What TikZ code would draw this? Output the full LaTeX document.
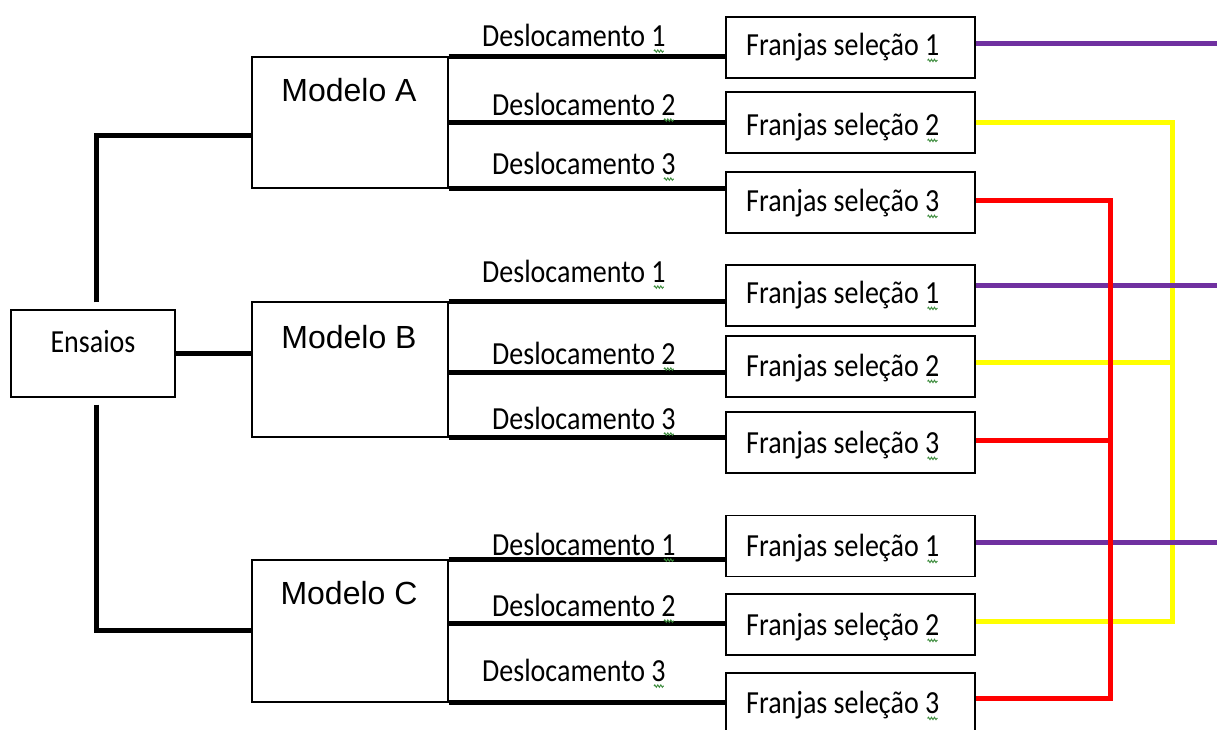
\documentclass[tikz,border=0pt]{standalone}
\usepackage{fontspec}
\usepackage{graphicx}
\setmainfont{Carlito}
\newfontfamily\arialfont{Liberation Sans}
\usetikzlibrary{positioning,decorations.pathmorphing}

\definecolor{roxo}{HTML}{7030A0}
\definecolor{amarelo}{HTML}{FFFF00}
\definecolor{vermelho}{HTML}{FF0000}
\definecolor{ondas}{HTML}{3A8A3A}

\newcommand{\alto}[1]{\scalebox{1}[1.15]{#1}}

\tikzset{
  caixa/.style={draw, line width=1.3pt, inner sep=0pt},
  texto/.style={inner sep=0pt, font=\fontsize{28}{33}\selectfont},
  modelo/.style={inner sep=0pt, font=\arialfont\fontsize{32}{38}\selectfont},
  grosso/.style={line width=5pt},
  ligacao/.style={line width=5pt},
  ondulado/.style={draw=ondas, line width=0.9pt, decorate,
    decoration={snake, amplitude=1.2pt, segment length=3pt}}
}

\begin{document}
\begin{tikzpicture}[x=1pt,y=-1pt]
\useasboundingbox (0,0) rectangle (1217,729);
\fill[white] (0,0) rectangle (1217,729);

% ensaios e modelos
\node[caixa, minimum width=164, minimum height=87] (ens) at (93,353.5) {};
\node[texto] (ensT) at (93,342) {\alto{Ensaios}};
\node[caixa, minimum width=196, minimum height=131] (mA) at (350,122.5) {};
\node[caixa, minimum width=196, minimum height=135] (mB) at (350,369.5) {};
\node[caixa, minimum width=196, minimum height=142] (mC) at (350,631) {};
\node[modelo] (mAT) at (349,90) {Modelo A};
\node[modelo] (mBT) at (349,337) {Modelo B};
\node[modelo] (mCT) at (349,593) {Modelo C};

% franjas
\foreach \n/\cy/\ty/\k in {A1/47.5/47/1, A2/122.5/127/2, A3/202.5/203/3,
                           B1/295.5/295/1, B2/366.5/368/2, B3/442.5/445/3,
                           C1/546/548/1, C2/624.5/627/2, C3/703.5/705/3}{
  \node[caixa, minimum width=249, minimum height=61] (f\n) at (850.5,\cy) {};
  \node[texto, anchor=west] (t\n) at (746,\ty) {\alto{Franjas seleção \k}};
}

% deslocamentos
\foreach \n/\x/\y/\k in {A1/482/35/1, A2/492/104/2, A3/492/163/3,
                         B1/482/271/1, B2/492/353/2, B3/492/418/3,
                         C1/492/544/1, C2/492/605/2, C3/482/670/3}{
  \node[texto, anchor=west] (d\n) at (\x,\y) {\alto{Deslocamento \k}};
}

% ligacoes pretas
\coordinate (tA) at (96,135);
\coordinate (tC) at (96,630);
\draw[grosso] ([yshift=7]ens.north -| tA) -- (tA) -- (tA -| mA.west);
\draw[grosso] ([yshift=-7]ens.south -| tC) -- (tC) -- (tC -| mC.west);
\draw[grosso] (ens.east) -- (ens.east -| mB.west);
\foreach \m/\s in {A/0,B/-2.5,C/8}{
  \draw[grosso] (m\m.north east) -- (m\m.north east -| f\m1.west);
  \draw[grosso] ([yshift=\s]m\m.east) -- ([yshift=\s]m\m.east -| f\m2.west);
  \draw[grosso] (m\m.south east) -- (m\m.south east -| f\m3.west);
}

% ligacoes coloridas
\coordinate (borda) at (1217,0);
\coordinate (busA) at (1172,0);
\coordinate (busV) at (1110,0);
\draw[ligacao, amarelo] ([yshift=0.5]fA2.east) -| ([yshift=3.5]fC2.east -| busA) -- ([yshift=3.5]fC2.east);
\draw[ligacao, amarelo] ([yshift=4.5]fB2.east) -- ([yshift=4.5]fB2.east -| busA);
\foreach \f/\s in {fA1/4.5, fB1/10.5, fC1/4}
  \draw[ligacao, roxo] ([yshift=\s]\f.east) -- ([yshift=\s]\f.east -| borda);
\draw[ligacao, vermelho] ([yshift=2.5]fA3.east) -| ([yshift=5.5]fC3.east -| busV) -- ([yshift=5.5]fC3.east);
\draw[ligacao, vermelho] ([yshift=2.5]fB3.east) -- ([yshift=2.5]fB3.east -| busV);

% sublinhados do corretor
\foreach \n in {dA1,dA2,dA3,dB1,dB2,dB3,dC1,dC2,dC3,tA1,tA2,tA3,tB1,tB2,tB3,tC1,tC2,tC3}
  \draw[ondulado] ([xshift=-12,yshift=-5]\n.base east) -- ++(10,0);
\end{tikzpicture}
\end{document}
